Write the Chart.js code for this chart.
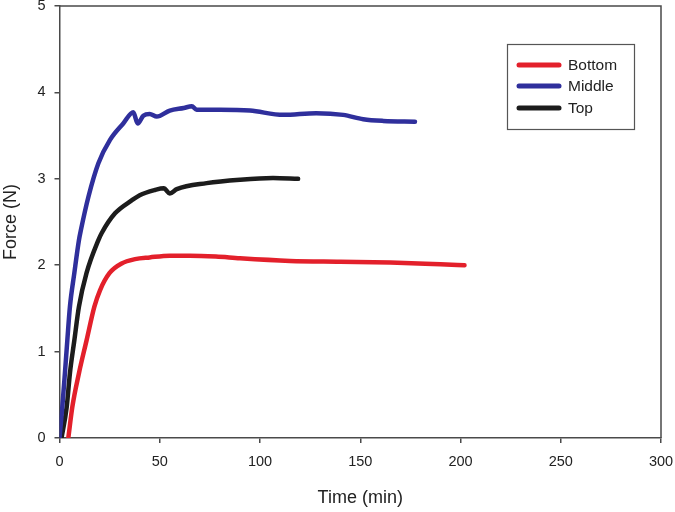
<!DOCTYPE html>
<html>
<head>
<meta charset="utf-8">
<script src="https://cdn.jsdelivr.net/npm/chart.js@4.4.1/dist/chart.umd.min.js"></script>
<style>
  html, body { margin: 0; padding: 0; background: #fff; }
  #wrap { width: 675px; height: 512px; position: relative; }
</style>
</head>
<body>
<div id="wrap"><canvas id="c" width="675" height="512"></canvas></div>
<script>
// ---- data ----
const seriesNames = ["Bottom", "Middle", "Top"];
const seriesColors = ["#e3202b", "#2f2f9c", "#1c1c1c"];

const bottomTime  = [4.4, 6.4, 9.7, 13.5, 17.4, 20.2, 25, 31, 37.7, 45, 55, 65, 78, 90, 115, 140, 165, 190, 202];
const bottomForce = [0, 0.36, 0.75, 1.13, 1.52, 1.71, 1.91, 2.02, 2.07, 2.09, 2.11, 2.11, 2.10, 2.08, 2.05, 2.04, 2.03, 2.01, 2.00];

const middleTime  = [0, 1.4, 2.7, 3.9, 5.2, 7.4, 9.7, 10.7, 14.4, 19.4, 25.2, 31.8, 36.8, 39, 41.8, 45, 48.5, 55, 62, 66, 68.4, 80, 95, 111.6, 128, 141.5, 151.5, 161.5, 177.3];
const middleForce = [0, 0.36, 0.75, 1.13, 1.52, 1.91, 2.29, 2.41, 2.79, 3.18, 3.45, 3.64, 3.77, 3.64, 3.73, 3.75, 3.72, 3.79, 3.82, 3.84, 3.80, 3.80, 3.79, 3.74, 3.76, 3.74, 3.69, 3.67, 3.66];

const topTime  = [1, 3.6, 5.2, 7.4, 9.7, 13.5, 19.4, 21, 27.7, 36, 40, 47.6, 52, 55, 58.5, 73.4, 90, 106.5, 119];
const topForce = [0, 0.36, 0.75, 1.13, 1.52, 1.91, 2.29, 2.37, 2.60, 2.75, 2.81, 2.87, 2.89, 2.83, 2.88, 2.95, 2.99, 3.01, 3.00];

const xTicks = [0, 50, 100, 150, 200, 250, 300];
const yTicks = [0, 1, 2, 3, 4, 5];
const xTitle = "Time (min)";
const yTitle = "Force (N)";

function pts(xs, ys) { return xs.map((x, i) => ({ x: x, y: ys[i] })); }
const allSeries = [pts(bottomTime, bottomForce), pts(middleTime, middleForce), pts(topTime, topForce)];

const FONT = "'Liberation Sans', Arial, sans-serif";

const framePlugin = {
  id: 'frame',
  afterDatasetsDraw(chart) {
    const ctx = chart.ctx, a = chart.chartArea;
    ctx.save();
    ctx.strokeStyle = '#4a4a4a';
    ctx.lineWidth = 1.5;
    ctx.beginPath();
    ctx.moveTo(a.left, a.top);
    ctx.lineTo(a.right, a.top);
    ctx.lineTo(a.right, a.bottom);
    ctx.stroke();
    // legend box
    const bx = 507, by = 44, bw = 127, bh = 85;
    ctx.fillStyle = '#fff';
    ctx.fillRect(bx, by, bw, bh);
    ctx.strokeStyle = '#555';
    ctx.lineWidth = 1.2;
    ctx.strokeRect(bx + 0.5, by + 0.5, bw, bh);
    const rows = [65, 86, 108];
    ctx.font = "15.5px " + FONT;
    ctx.textBaseline = 'middle';
    ctx.textAlign = 'left';
    chart.data.datasets.forEach((ds, i) => {
      ctx.strokeStyle = ds.borderColor;
      ctx.lineWidth = 5;
      ctx.lineCap = 'round';
      ctx.beginPath();
      ctx.moveTo(519, rows[i]);
      ctx.lineTo(559, rows[i]);
      ctx.stroke();
      ctx.fillStyle = '#222';
      ctx.fillText(ds.label, 568, rows[i] + 1);
    });
    ctx.restore();
  }
};

new Chart(document.getElementById('c'), {
  type: 'scatter',
  data: {
    datasets: allSeries.map((d, i) => ({
      label: seriesNames[i],
      data: d,
      showLine: true,
      borderColor: seriesColors[i],
      backgroundColor: seriesColors[i],
      borderWidth: 4.5,
      pointRadius: 0,
      cubicInterpolationMode: 'monotone',
      borderCapStyle: 'round',
      borderJoinStyle: 'round'
    }))
  },
  options: {
    responsive: false,
    animation: false,
    layout: { padding: { top: 6, right: 14, left: 0, bottom: 0 } },
    plugins: { legend: { display: false }, tooltip: { enabled: false } },
    scales: {
      x: {
        type: 'linear',
        min: 0, max: 300,
        afterBuildTicks(s) { s.ticks = xTicks.map(v => ({ value: v })); },
        afterFit(s) { s.height = 74; s.paddingLeft = 0; s.paddingRight = 0; },
        grid: { drawOnChartArea: false, drawTicks: true, tickLength: 5, color: '#4a4a4a', lineWidth: 1.5 },
        border: { color: '#4a4a4a', width: 1.5 },
        ticks: { color: '#222', font: { family: FONT, size: 14.5 }, padding: 10, maxRotation: 0 },
        title: { display: true, text: xTitle, color: '#222', font: { family: FONT, size: 18 }, padding: { top: 0, bottom: 3 } }
      },
      y: {
        type: 'linear',
        min: 0, max: 5,
        afterBuildTicks(s) { s.ticks = yTicks.map(v => ({ value: v })); },
        afterFit(s) { s.width = 59.5; s.paddingTop = 0; s.paddingBottom = 0; },
        grid: { drawOnChartArea: false, drawTicks: true, tickLength: 5, color: '#4a4a4a', lineWidth: 1.5 },
        border: { color: '#4a4a4a', width: 1.5 },
        ticks: { color: '#222', font: { family: FONT, size: 14.5 }, padding: 9 },
        title: { display: true, text: yTitle, color: '#222', font: { family: FONT, size: 18 }, padding: { top: 0, bottom: 0 } }
      }
    }
  },
  plugins: [framePlugin]
});
</script>
</body>
</html>
